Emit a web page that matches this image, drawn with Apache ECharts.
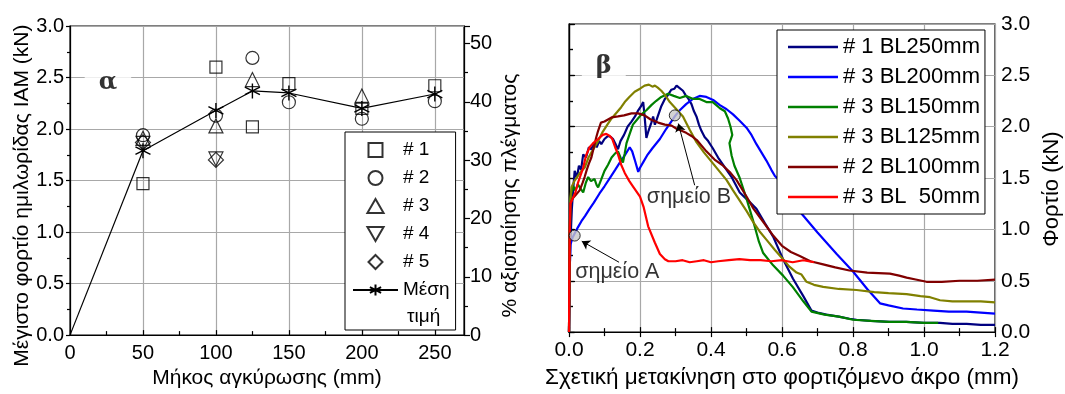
<!DOCTYPE html>
<html>
<head>
<meta charset="utf-8">
<script src="https://cdn.jsdelivr.net/npm/echarts@6/dist/echarts.min.js"></script>
<style>
  html, body { margin: 0; padding: 0; background: #fff; }
  #chart { width: 1065px; height: 394px; }
</style>
</head>
<body>
<div id="chart"></div>
<script>
// ---- panel α : peak load vs bond length ----
var bondLen = [50, 100, 125, 150, 200, 250]
var spec1 = [1.47, 2.60, 2.02, 2.44, 2.20, 2.42]
var spec2 = [1.94, 2.13, 2.69, 2.26, 2.10, 2.27]
var spec3 = [1.91, 2.03, 2.48, null, 2.32, null]
var spec4 = [1.86, 1.71, null, null, null, null]
var spec5 = [1.87, 1.70, null, null, null, null]
var meanLen = [0, 50, 100, 125, 150, 200, 250]
var meanVal = [0, 1.79, 2.18, 2.37, 2.35, 2.20, 2.34]

// ---- panel β : load vs loaded-end slip [slip mm, load kN] ----
var bl250 = [[0, 0], [0.002, 0.6], [0.004, 0.88], [0.008, 1.2], [0.012, 1.4], [0.016, 1.57], [0.022, 1.5], [0.028, 1.62],
  [0.034, 1.58], [0.04, 1.73], [0.048, 1.7], [0.056, 1.8], [0.063, 1.78], [0.07, 1.84], [0.078, 1.8], [0.085, 1.86],
  [0.091, 1.83], [0.1, 1.88], [0.11, 1.91], [0.118, 1.9], [0.124, 1.88], [0.13, 1.84], [0.138, 1.78], [0.145, 1.86],
  [0.155, 1.92], [0.165, 2.0], [0.176, 2.05], [0.186, 2.1], [0.195, 2.16], [0.203, 2.2], [0.209, 2.24], [0.213, 2.1],
  [0.218, 1.89], [0.224, 1.96], [0.232, 2.04], [0.237, 2.1], [0.242, 2.02], [0.25, 2.1], [0.26, 2.2], [0.27, 2.27],
  [0.279, 2.31], [0.288, 2.36], [0.297, 2.37], [0.303, 2.4], [0.31, 2.38], [0.321, 2.35], [0.328, 2.31], [0.335, 2.28],
  [0.345, 2.22], [0.352, 2.15], [0.359, 2.1], [0.366, 2.02], [0.373, 1.96], [0.382, 1.9], [0.392, 1.86], [0.405, 1.79],
  [0.42, 1.7], [0.44, 1.6], [0.458, 1.51], [0.481, 1.36], [0.505, 1.28], [0.528, 1.2], [0.552, 1.06], [0.575, 0.93],
  [0.603, 0.71], [0.631, 0.52], [0.66, 0.35], [0.683, 0.21], [0.7, 0.19], [0.725, 0.17], [0.76, 0.15], [0.79, 0.13],
  [0.81, 0.12], [0.85, 0.11], [0.904, 0.1], [0.95, 0.1], [1.0, 0.09], [1.045, 0.09], [1.08, 0.08], [1.12, 0.08],
  [1.16, 0.07], [1.2, 0.07]]
var bl200 = [[0, 0], [0.002, 0.6], [0.004, 0.85], [0.01, 0.92], [0.016, 0.96], [0.025, 1.02], [0.035, 1.08], [0.045, 1.13],
  [0.058, 1.2], [0.07, 1.26], [0.086, 1.35], [0.1, 1.42], [0.115, 1.5], [0.13, 1.58], [0.143, 1.65], [0.157, 1.72],
  [0.171, 1.8], [0.178, 1.76], [0.185, 1.68], [0.195, 1.56], [0.2, 1.6], [0.21, 1.66], [0.22, 1.72], [0.235, 1.79],
  [0.256, 1.88], [0.274, 1.98], [0.29, 2.06], [0.298, 2.1], [0.312, 2.16], [0.33, 2.22], [0.349, 2.27], [0.368, 2.3],
  [0.387, 2.29], [0.406, 2.26], [0.425, 2.21], [0.444, 2.17], [0.462, 2.12], [0.48, 2.06], [0.5, 1.99], [0.514, 1.92],
  [0.528, 1.83], [0.542, 1.75], [0.556, 1.67], [0.57, 1.58], [0.58, 1.52], [0.595, 1.47], [0.613, 1.4], [0.625, 1.3],
  [0.641, 1.21], [0.7, 0.97], [0.754, 0.76], [0.8, 0.59], [0.84, 0.42], [0.876, 0.28], [0.9, 0.26], [0.941, 0.23],
  [0.98, 0.22], [1.026, 0.21], [1.07, 0.2], [1.12, 0.2], [1.16, 0.19], [1.2, 0.18]]
var bl150 = [[0, 0], [0.002, 0.9], [0.004, 1.3], [0.007, 1.36], [0.012, 1.42], [0.018, 1.38], [0.025, 1.44], [0.032, 1.4],
  [0.04, 1.36], [0.047, 1.45], [0.054, 1.51], [0.062, 1.47], [0.072, 1.49], [0.078, 1.43], [0.082, 1.41], [0.09, 1.48],
  [0.1, 1.57], [0.11, 1.63], [0.12, 1.7], [0.13, 1.74], [0.138, 1.76], [0.145, 1.7], [0.152, 1.65], [0.157, 1.74],
  [0.162, 1.84], [0.17, 1.92], [0.18, 2.02], [0.192, 2.07], [0.204, 2.12], [0.218, 2.16], [0.232, 2.21], [0.245, 2.25],
  [0.26, 2.29], [0.279, 2.32], [0.295, 2.3], [0.312, 2.28], [0.33, 2.3], [0.35, 2.27], [0.368, 2.27], [0.387, 2.24],
  [0.405, 2.24], [0.425, 2.18], [0.439, 2.15], [0.448, 2.08], [0.455, 2.0], [0.46, 1.92], [0.452, 1.84], [0.458, 1.72],
  [0.466, 1.62], [0.481, 1.5], [0.5, 1.3], [0.519, 1.08], [0.535, 0.88], [0.547, 0.77], [0.575, 0.65], [0.603, 0.55],
  [0.63, 0.44], [0.66, 0.3], [0.683, 0.2], [0.72, 0.17], [0.76, 0.15], [0.8, 0.12], [0.85, 0.11], [0.9, 0.1],
  [0.95, 0.1], [1.0, 0.09], [1.04, 0.09]]
var bl125 = [[0, 0], [0.002, 0.9], [0.004, 1.3], [0.007, 1.41], [0.015, 1.47], [0.025, 1.52], [0.035, 1.57], [0.044, 1.6],
  [0.055, 1.7], [0.065, 1.76], [0.075, 1.82], [0.082, 1.86], [0.095, 1.95], [0.108, 2.02], [0.12, 2.08], [0.135, 2.14],
  [0.147, 2.19], [0.157, 2.24], [0.17, 2.29], [0.185, 2.34], [0.2, 2.37], [0.213, 2.4], [0.225, 2.41], [0.235, 2.39],
  [0.242, 2.4], [0.25, 2.38], [0.26, 2.35], [0.27, 2.31], [0.284, 2.24], [0.3, 2.18], [0.321, 2.1], [0.34, 1.97],
  [0.359, 1.85], [0.38, 1.75], [0.406, 1.64], [0.425, 1.56], [0.444, 1.48], [0.462, 1.38], [0.481, 1.28], [0.5, 1.18],
  [0.519, 1.07], [0.537, 0.98], [0.556, 0.9], [0.58, 0.8], [0.603, 0.71], [0.62, 0.64], [0.641, 0.58], [0.655, 0.56],
  [0.669, 0.49], [0.69, 0.46], [0.716, 0.44], [0.76, 0.42], [0.81, 0.41], [0.86, 0.39], [0.9, 0.38], [0.951, 0.37],
  [0.99, 0.35], [1.017, 0.34], [1.045, 0.31], [1.08, 0.3], [1.12, 0.3], [1.16, 0.3], [1.2, 0.29]]
var bl100 = [[0, 0], [0.002, 0.9], [0.004, 1.25], [0.01, 1.3], [0.02, 1.34], [0.03, 1.38], [0.038, 1.45], [0.044, 1.51],
  [0.05, 1.58], [0.056, 1.64], [0.063, 1.7], [0.07, 1.8], [0.077, 1.9], [0.082, 1.96], [0.09, 2.04], [0.1, 2.05],
  [0.11, 2.07], [0.12, 2.09], [0.138, 2.1], [0.155, 2.11], [0.176, 2.13], [0.195, 2.13], [0.213, 2.11], [0.23, 2.07],
  [0.251, 2.04], [0.27, 2.02], [0.289, 2.01], [0.303, 1.98], [0.317, 1.96], [0.33, 1.94], [0.345, 1.91], [0.36, 1.87],
  [0.387, 1.76], [0.41, 1.68], [0.434, 1.62], [0.455, 1.55], [0.472, 1.48], [0.5, 1.32], [0.52, 1.2], [0.55, 1.06],
  [0.575, 0.94], [0.6, 0.84], [0.625, 0.78], [0.65, 0.74], [0.68, 0.69], [0.716, 0.66], [0.75, 0.63], [0.79, 0.6],
  [0.84, 0.58], [0.904, 0.57], [0.93, 0.55], [0.951, 0.53], [0.98, 0.51], [1.007, 0.49], [1.05, 0.49], [1.1, 0.5],
  [1.15, 0.5], [1.2, 0.51]]
var bl50 = [[0, 0], [0.002, 1.0], [0.004, 1.25], [0.01, 1.3], [0.018, 1.36], [0.025, 1.45], [0.032, 1.52], [0.04, 1.6],
  [0.048, 1.72], [0.058, 1.8], [0.068, 1.84], [0.082, 1.88], [0.095, 1.92], [0.105, 1.93], [0.115, 1.91], [0.122, 1.88],
  [0.13, 1.8], [0.138, 1.73], [0.147, 1.63], [0.157, 1.55], [0.17, 1.47], [0.18, 1.42], [0.2, 1.32], [0.21, 1.22],
  [0.223, 1.03], [0.242, 0.87], [0.256, 0.76], [0.27, 0.71], [0.28, 0.69], [0.3, 0.69], [0.32, 0.7], [0.34, 0.68],
  [0.36, 0.69], [0.38, 0.7], [0.4, 0.68], [0.42, 0.69], [0.45, 0.7], [0.48, 0.71], [0.51, 0.7], [0.54, 0.7],
  [0.57, 0.69], [0.6, 0.7], [0.63, 0.68], [0.66, 0.7], [0.69, 0.68]]

var curveNames = ['# 1 BL250mm', '# 3 BL200mm', '# 3 BL150mm', '# 3 BL125mm', '# 2 BL100mm', '# 3 BL  50mm']
var curveColors = ['#000080', '#0000ff', '#008000', '#808000', '#800000', '#ff0000']
var curves = [bl250, bl200, bl150, bl125, bl100, bl50]

var pointA = [0.016, 0.94]
var pointB = [0.298, 2.11]

var FONT = 'Liberation Sans, Arial, sans-serif'
var SERIF = 'DejaVu Serif, Liberation Serif, serif'
var GRID_COLOR = '#a8a8a8'
var STAR = 'path://M0,-10L0,10M-8.66,-5L8.66,5M-8.66,5L8.66,-5'
var SQUARE = 'path://M0,0L10,0L10,10L0,10Z'
var TRI_UP = 'path://M5,0L10,8.66L0,8.66Z'
var TRI_DOWN = 'path://M0,0L10,0L5,8.66Z'
var DIAMOND = 'path://M5,0L10,5L5,10L0,5Z'

function pairs(xs, ys) {
  return xs.map(function(x, i) { return [x, ys[i]] }).filter(function(p) { return p[1] !== null })
}

function hollow(name, symbol, size, ys) {
  return {
    name: name,
    type: 'scatter',
    xAxisIndex: 0,
    yAxisIndex: 0,
    symbol: symbol,
    symbolSize: size,
    itemStyle: { color: 'rgba(0,0,0,0)', borderColor: '#000', borderWidth: 1.2 },
    data: pairs(bondLen, ys),
    z: 3
  }
}

var axisLine = { show: true, lineStyle: { color: '#000', width: 1.2 } }
var tickStyle = { color: '#000', width: 1.2 }
var labelLeft = { color: '#000', fontSize: 20, fontFamily: FONT }
var labelRight = { color: '#000', fontSize: 21, fontFamily: FONT }
var oneDec = function(v) { return v.toFixed(1) }

var series = [
  hollow('# 1', SQUARE, 12, spec1),
  hollow('# 2', 'circle', 13, spec2),
  hollow('# 3', TRI_UP, 14, spec3),
  hollow('# 4', TRI_DOWN, 14, spec4),
  hollow('# 5', DIAMOND, 15, spec5),
  {
    name: 'Μέση τιμή',
    type: 'line',
    xAxisIndex: 0,
    yAxisIndex: 0,
    symbol: STAR,
    symbolSize: 15,
    itemStyle: { color: '#000', borderColor: '#000', borderWidth: 1.4 },
    lineStyle: { color: '#000', width: 1.2 },
    data: pairs(meanLen, meanVal).slice(1),
    z: 4
  },
  {
    // segment from the origin, no marker there
    type: 'line',
    xAxisIndex: 0,
    yAxisIndex: 0,
    symbol: 'none',
    lineStyle: { color: '#000', width: 1.2 },
    data: pairs(meanLen, meanVal).slice(0, 2),
    z: 4
  },
  {
    type: 'scatter',
    xAxisIndex: 0,
    yAxisIndex: 0,
    symbolSize: 0,
    data: [[26, 2.45]],
    label: {
      show: true, position: 'inside', formatter: 'α',
      fontFamily: SERIF, fontWeight: 'bold', fontSize: 24, color: '#000',
      backgroundColor: '#fff', padding: [5, 14]
    },
    z: 5
  }
]

curves.forEach(function(c, i) {
  series.push({
    name: curveNames[i],
    type: 'line',
    xAxisIndex: 1,
    yAxisIndex: 3,
    symbol: 'none',
    lineStyle: { color: curveColors[i], width: 2.2 },
    itemStyle: { color: curveColors[i] },
    data: c,
    z: 2
  })
})

series.push({
  type: 'scatter',
  xAxisIndex: 1,
  yAxisIndex: 3,
  symbol: 'circle',
  symbolSize: 11,
  itemStyle: { color: '#c8c8c8', borderColor: '#000', borderWidth: 1 },
  data: [pointA, pointB],
  z: 6,
  markLine: {
    silent: true,
    symbol: ['none', 'arrow'],
    symbolSize: 8,
    label: { show: false },
    lineStyle: { color: '#000', width: 1, type: 'solid' },
    data: [
      [{ coord: [0.141, 0.68] }, { coord: [0.036, 0.885] }],
      [{ coord: [0.354, 1.43] }, { coord: [0.308, 2.03] }]
    ]
  }
})

series.push({
  type: 'scatter',
  xAxisIndex: 1,
  yAxisIndex: 3,
  symbolSize: 0,
  data: [
    { value: [0.136, 0.58], label: { formatter: 'σημείο Α' } },
    { value: [0.338, 1.31], label: { formatter: 'σημείο Β' } },
    { value: [0.098, 2.58], label: { formatter: 'β', fontFamily: SERIF, fontWeight: 'bold', fontSize: 24, backgroundColor: '#fff', padding: [5, 14] } }
  ],
  label: { show: true, position: 'inside', color: '#000', fontSize: 21.5, fontFamily: FONT },
  z: 6
})

var option = {
  animation: false,
  backgroundColor: '#fff',
  grid: [
    { left: 70, right: 601, top: 26, bottom: 57, show: true, borderColor: '#000', borderWidth: 1.2 },
    { left: 569, right: 70, top: 24, bottom: 57, show: true, borderColor: '#000', borderWidth: 1.2 }
  ],
  legend: [
    {
      left: 345, top: 132, orient: 'vertical', selectedMode: false,
      padding: [8, 6, 30, 7], itemGap: 8, itemWidth: 45, itemHeight: 14,
      backgroundColor: '#fff', borderColor: '#000', borderWidth: 1,
      textStyle: { fontSize: 19, fontFamily: FONT, color: '#000', lineHeight: 20 },
      data: ['# 1', '# 2', '# 3', '# 4', '# 5', 'Μέση τιμή'],
      formatter: function(n) { return n === 'Μέση τιμή' ? 'Μέση' : n }
    },
    {
      left: 777, top: 30, orient: 'vertical', selectedMode: false,
      padding: [6, 5, 6, 11], itemGap: 8, itemWidth: 50, itemHeight: 2.5, icon: 'rect',
      backgroundColor: '#fff', borderColor: '#000', borderWidth: 1,
      textStyle: { fontSize: 22, fontFamily: FONT, color: '#000', lineHeight: 20 },
      data: curveNames
    }
  ],
  graphic: [
    // second line of the "Μέση τιμή" legend entry
    { type: 'text', left: 407, top: 307, z: 100, style: { text: 'τιμή', font: '19px Liberation Sans, Arial, sans-serif', fill: '#000' } }
  ],
  xAxis: [
    {
      gridIndex: 0, type: 'value', min: 0, max: 270, interval: 50,
      name: 'Μήκος αγκύρωσης (mm)', nameLocation: 'middle', nameGap: 30,
      nameTextStyle: { fontSize: 21, fontFamily: FONT, color: '#000' },
      axisLine: axisLine,
      axisTick: { inside: true, length: 5, lineStyle: tickStyle },
      minorTick: { show: true, splitNumber: 2, length: 4, lineStyle: tickStyle },
      axisLabel: Object.assign({ margin: 8, showMaxLabel: false }, labelLeft),
      splitLine: { show: true, lineStyle: { color: GRID_COLOR, width: 1.2 } }
    },
    {
      gridIndex: 1, type: 'value', min: 0, max: 1.2, interval: 0.2,
      name: 'Σχετική μετακίνηση στο φορτιζόμενο άκρο (mm)', nameLocation: 'middle', nameGap: 30,
      nameTextStyle: { fontSize: 22.5, fontFamily: FONT, color: '#000' },
      axisLine: axisLine,
      axisTick: { inside: true, length: 5, lineStyle: tickStyle },
      minorTick: { show: true, splitNumber: 2, length: 4, lineStyle: tickStyle },
      axisLabel: Object.assign({ margin: 8, formatter: oneDec }, labelRight),
      splitLine: { show: true, lineStyle: { color: GRID_COLOR, width: 1.2 } }
    },
    {
      gridIndex: 1, type: 'value', position: 'top', min: 0, max: 1.2, interval: 0.2,
      axisLine: axisLine,
      axisTick: { inside: true, length: 5, lineStyle: tickStyle },
      minorTick: { show: true, splitNumber: 2, length: 4, lineStyle: tickStyle },
      axisLabel: { show: false },
      splitLine: { show: false }
    }
  ],
  yAxis: [
    {
      gridIndex: 0, type: 'value', min: 0, max: 3, interval: 0.5,
      name: 'Μέγιστο φορτίο ημιλωρίδας ΙΑΜ (kN)', nameLocation: 'middle', nameGap: 37,
      nameTextStyle: { fontSize: 21, fontFamily: FONT, color: '#000', padding: [0, 30, 0, 0] },
      axisLine: axisLine,
      axisTick: { inside: false, length: 4, lineStyle: tickStyle },
      minorTick: { show: true, splitNumber: 2, length: 3, lineStyle: tickStyle },
      axisLabel: Object.assign({ margin: 6, formatter: oneDec }, labelLeft),
      splitLine: { show: true, lineStyle: { color: GRID_COLOR, width: 1.2 } }
    },
    {
      gridIndex: 0, type: 'value', position: 'right', min: 0, max: 53, interval: 10,
      name: '% αξιοποίησης πλέγματος', nameLocation: 'middle', nameGap: 36, nameRotate: 90,
      nameTextStyle: { fontSize: 21, fontFamily: FONT, color: '#000', padding: [0, 30, 0, 0] },
      axisLine: axisLine,
      axisTick: { inside: false, length: 6, lineStyle: tickStyle },
      minorTick: { show: true, splitNumber: 2, length: 4, lineStyle: tickStyle },
      axisLabel: Object.assign({ margin: 6, showMaxLabel: false }, labelLeft),
      splitLine: { show: false }
    },
    {
      gridIndex: 1, type: 'value', position: 'left', min: 0, max: 3, interval: 0.5,
      axisLine: axisLine,
      axisTick: { inside: true, length: 5, lineStyle: tickStyle },
      minorTick: { show: true, splitNumber: 2, length: 4, lineStyle: tickStyle },
      axisLabel: { show: false },
      splitLine: { show: true, lineStyle: { color: GRID_COLOR, width: 1.2 } }
    },
    {
      gridIndex: 1, type: 'value', position: 'right', min: 0, max: 3, interval: 0.5,
      name: 'Φορτίο (kN)', nameLocation: 'middle', nameGap: 46, nameRotate: 90,
      nameTextStyle: { fontSize: 22, fontFamily: FONT, color: '#000', padding: [0, 22, 0, 0] },
      axisLine: axisLine,
      axisTick: { inside: false, length: 6, lineStyle: tickStyle },
      minorTick: { show: true, splitNumber: 2, length: 4, lineStyle: tickStyle },
      axisLabel: Object.assign({ margin: 6, formatter: oneDec }, labelRight),
      splitLine: { show: false }
    }
  ],
  series: series
}

var chart = echarts.init(document.getElementById('chart'), null, { renderer: 'canvas' })
chart.setOption(option)
</script>
</body>
</html>
